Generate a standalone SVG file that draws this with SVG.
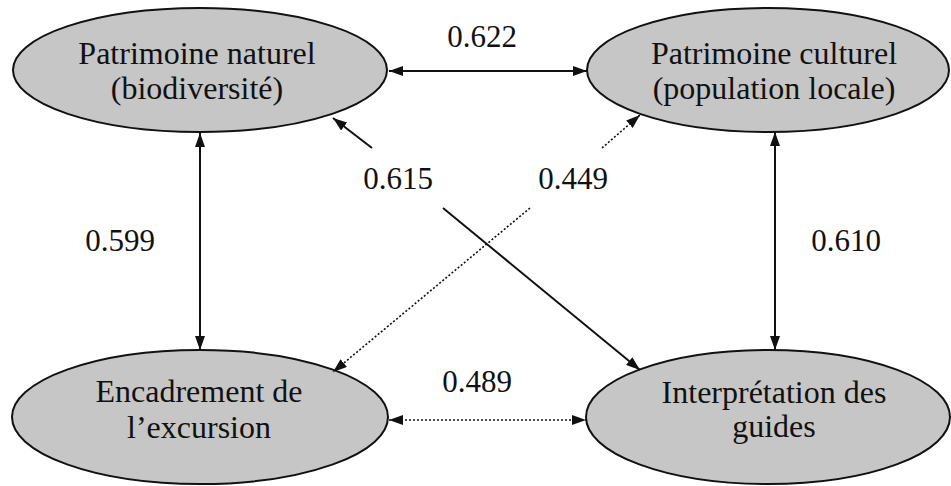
<svg xmlns="http://www.w3.org/2000/svg" width="951" height="486" viewBox="0 0 951 486">
<style>
.node ellipse{fill:#c6c6c6;stroke:#111;stroke-width:2}
.t{font-family:"Liberation Serif","Times New Roman",serif;font-size:32px;fill:#111;text-anchor:middle}
.n{font-family:"Liberation Serif","Times New Roman",serif;font-size:31px;fill:#111;text-anchor:middle}
.solid{stroke:#111;stroke-width:2;fill:none}
.dot{stroke:#111;stroke-width:1.6;fill:none;stroke-dasharray:2 2}
</style>
<defs>
<marker id="ah" viewBox="0 0 14 10" refX="14" refY="5" markerWidth="14" markerHeight="10" markerUnits="userSpaceOnUse" orient="auto-start-reverse">
<path d="M0,0 L14,5 L0,10 z" fill="#111"/>
</marker>
</defs>
<rect width="951" height="486" fill="#fff"/>
<g id="n1" class="node">
<ellipse cx="200" cy="70" rx="187" ry="62"/>
<text class="t" x="197" y="64">Patrimoine naturel</text>
<text class="t" x="197" y="99">(biodiversité)</text>
</g>
<g id="n2" class="node">
<ellipse cx="768" cy="70" rx="181" ry="62"/>
<text class="t" x="774" y="64">Patrimoine culturel</text>
<text class="t" x="774" y="99">(population locale)</text>
</g>
<g id="n3" class="node">
<ellipse cx="200" cy="417" rx="188" ry="67"/>
<text class="t" x="199" y="402">Encadrement de</text>
<text class="t" x="199" y="438">l’excursion</text>
</g>
<g id="n4" class="node">
<ellipse cx="768" cy="417" rx="182" ry="67"/>
<text class="t" x="774" y="403">Interprétation des</text>
<text class="t" x="774" y="437">guides</text>
</g>
<g id="connectors">
<line class="solid" x1="389" y1="71" x2="587" y2="71" marker-start="url(#ah)" marker-end="url(#ah)"/>
<line class="solid" x1="200" y1="133" x2="200" y2="350" marker-start="url(#ah)" marker-end="url(#ah)"/>
<line class="solid" x1="775" y1="132" x2="775" y2="350" marker-start="url(#ah)" marker-end="url(#ah)"/>
<line class="dot" x1="389" y1="420" x2="586" y2="420" marker-start="url(#ah)" marker-end="url(#ah)"/>
<line class="solid" x1="372" y1="148" x2="333" y2="118" marker-end="url(#ah)"/>
<line class="solid" x1="443" y1="208" x2="640" y2="370" marker-end="url(#ah)"/>
<line class="dot" x1="602" y1="148" x2="640" y2="115" marker-end="url(#ah)"/>
<line class="dot" x1="530" y1="208" x2="333" y2="372" marker-end="url(#ah)"/>
</g>
<g id="labels">
<text class="n" x="482" y="47">0.622</text>
<text class="n" x="398" y="189">0.615</text>
<text class="n" x="573" y="189">0.449</text>
<text class="n" x="120" y="251">0.599</text>
<text class="n" x="846" y="251">0.610</text>
<text class="n" x="477" y="392">0.489</text>
</g>
</svg>
